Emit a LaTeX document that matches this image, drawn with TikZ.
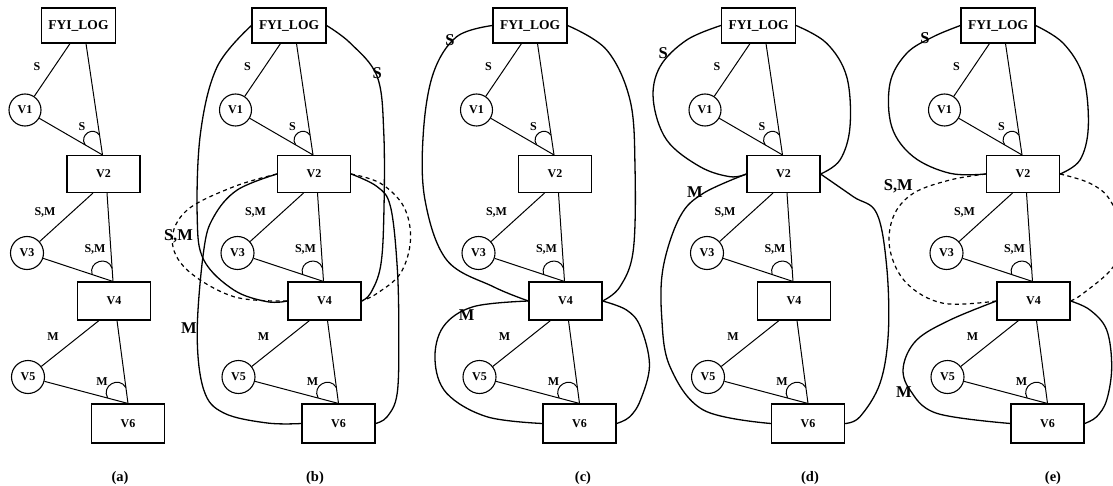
\documentclass[tikz,border=0pt]{standalone}
\usepackage{fontspec}
\setmainfont{Liberation Serif}
\usetikzlibrary{calc}
\newcommand\myNodeFont{\fontsize{12}{14}\selectfont\bfseries}
\newcommand\myFyiFont{\fontsize{13.5}{15}\selectfont\bfseries}
\newcommand\mySmallFont{\fontsize{12}{14}\selectfont\bfseries}
\newcommand\myBigFont{\fontsize{16.5}{18}\selectfont\bfseries}
\newcommand\myCapFont{\fontsize{14.5}{16}\selectfont\bfseries}
\tikzset{
  vbox/.style={draw, line width=1.1pt, minimum width=73pt, minimum height=37pt, inner sep=0pt, font=\myNodeFont},
  vcirc/.style={draw, circle, line width=1.1pt, minimum size=33pt, inner sep=0pt, font=\myNodeFont},
  thinedge/.style={line width=1pt},
  bigcurve/.style={line width=1.3pt},
  dcurve/.style={line width=1.2pt, dash pattern=on 4pt off 3.5pt},
  slab/.style={font=\mySmallFont, inner sep=0pt},
  blab/.style={font=\myBigFont, inner sep=0pt},
  caplab/.style={font=\myCapFont, inner sep=0pt},
}
\newcommand\andArc[5]{\draw[thinedge] ($(#1)!#4!(#2)$) to[bend left=90, looseness=1.7] ($(#1)!#5!(#3)$);}
\newcommand\panelBase{%
  \node[vbox, font=\myFyiFont, minimum width=74pt, minimum height=35pt] (fyi) at (78.5,25.5) {FYI\_LOG};
  \node[vcirc, minimum size=32pt] (v1) at (25,110) {V1};
  \node[vbox] (v2) at (103.5,174) {V2};
  \node[vcirc] (v3) at (27,253) {V3};
  \node[vbox, minimum height=38pt] (v4) at (114,301) {V4};
  \node[vcirc] (v5) at (28,377) {V5};
  \node[vbox, minimum height=39pt] (v6) at (128,423.5) {V6};
  \coordinate (f1) at ($(fyi.south)+(-8.5,0)$);
  \coordinate (f2) at ($(fyi.south)+(7.5,0)$);
  \coordinate (j2) at ($(v2.north)+(-1,0)$);
  \coordinate (b3) at ($(v2.south)+(-10.5,0)$);
  \coordinate (b4) at ($(v2.south)+(3.5,0)$);
  \coordinate (j4) at ($(v4.north)+(-1,0)$);
  \coordinate (c5) at ($(v4.south)+(-15,0)$);
  \coordinate (c6) at ($(v4.south)+(3,0)$);
  \coordinate (j6) at (v6.north);
  \draw[thinedge] (f1) -- (v1);
  \draw[thinedge] (f2) -- (j2);
  \draw[thinedge] (v1) -- (j2);
  \draw[thinedge] (b3) -- (v3);
  \draw[thinedge] (b4) -- (j4);
  \draw[thinedge] (v3) -- (j4);
  \draw[thinedge] (c5) -- (v5);
  \draw[thinedge] (c6) -- (j6);
  \draw[thinedge] (v5) -- (j6);
  \andArc{j2}{v1}{f2}{20pt}{20pt}
  \andArc{j4}{v3}{b4}{22pt}{13pt}
  \andArc{j6}{v5}{c6}{21pt}{16pt}
  \node[slab] (s1) at (37,67) {S};
  \node[slab] (s2) at (82,127) {S};
  \node[slab] (s3) at (45,212) {S,M};
  \node[slab] (s4) at (95,249) {S,M};
  \node[slab] (s5) at (53,337) {M};
  \node[slab] (s6) at (102,382) {M};
}
\begin{document}
\begin{tikzpicture}[x=1pt,y=-1pt]
\useasboundingbox (0,0) rectangle (1113,486);
\clip (0,0) rectangle (1113,486);
% (a)
\begin{scope}[name prefix=a-]
  \panelBase
\end{scope}
% (b)
\begin{scope}[shift={(210.5,0)}, name prefix=b-]
  \panelBase
  \draw[bigcurve] plot[smooth, tension=0.6] coordinates {(fyi.west) (6.7,66.7) (-10,133) (-13.3,216.7) (-6.7,260) (23.3,290) (56.7,301.7) (v4.west)};
  \draw[bigcurve] plot[smooth, tension=0.6] coordinates {(v2.west) (26.7,190) (3.3,216.7) (-6.7,250) (-13.3,333) (-6.7,390) (13.3,413) (56.7,423) (v6.west)};
  \draw[dcurve] plot[smooth, tension=0.6] coordinates {(v2.west) (23.3,186.7) (-23.3,210) (-38.3,240) (-23.3,270) (23.3,296.7) (v4.west)};
  \draw[bigcurve] plot[smooth, tension=0.6] coordinates {(fyi.east) (140,43.3) (166.7,76.7) (173.3,133.3) (173.3,216.7) (170,266.7) (160,293.3) (v4.east)};
  \draw[bigcurve] plot[smooth, tension=0.6] coordinates {(v2.east) (166.7,186.7) (180,206.7) (186.7,266.7) (188.3,333.3) (186.7,393.3) (176.7,416.7) (v6.east)};
  \draw[dcurve] plot[smooth, tension=0.6] coordinates {(v2.east) (170,183.3) (193.3,206.7) (200,240) (190,273.3) (166.7,293.3) (v4.east)};
  \node[blab] (bs) at (166.7,73.3) {S};
  \node[blab] (bsm) at (-32,236.7) {S,M};
  \node[blab] (bm) at (-21.7,328.3) {M};
\end{scope}
% (c)
\begin{scope}[shift={(451.5,0)}, name prefix=c-]
  \panelBase
  \draw[bigcurve] plot[smooth, tension=0.6] coordinates {(fyi.west) (5.2,36.7) (-18.2,73.3) (-28.2,133.3) (-26.5,200) (-4.8,260) (41.8,286.7) (v4.west)};
  \draw[bigcurve] plot[smooth, tension=0.6] coordinates {(fyi.east) (155.2,50) (178.5,100) (183.5,166.7) (181.8,250) (168.5,286.7) (v4.east)};
  \draw[bigcurve] plot[smooth, tension=0.6] coordinates {(v4.west) (21.8,306.7) (-8.2,326.7) (-16.5,360) (-4.8,393.3) (35.2,416.7) (v6.west)};
  \draw[bigcurve] plot[smooth, tension=0.6] coordinates {(v4.east) (175,310) (189,327) (198,365) (189,400) (178,417) (v6.east)};
  \node[blab] (cs) at (-1.5,40) {S};
  \node[blab] (cm) at (15.2,315) {M};
\end{scope}
% (d)
\begin{scope}[shift={(680,0)}, name prefix=d-]
  \panelBase
  \draw[bigcurve] plot[smooth, tension=0.6] coordinates {(fyi.west) (6.7,40) (-20,66.7) (-26.7,100) (-13.3,140) (20,166.7) (50,176.7) (v2.west)};
  \draw[bigcurve] plot[smooth, tension=0.6] coordinates {(fyi.east) (146.7,43.3) (166.7,76.7) (170,126.7) (160,160) (v2.east)};
  \draw[bigcurve] plot[smooth, tension=0.6] coordinates {(v2.west) (23.3,193.3) (0,216.7) (-16.7,266.7) (-18.3,316.7) (-10,366.7) (23.3,410) (v6.west)};
  \draw[bigcurve] plot[smooth, tension=0.6] coordinates {(v2.east) (173.3,196.7) (196.7,213.3) (206.7,266.7) (208.3,333.3) (200,383.3) (180,416.7) (v6.east)};
  \node[blab] (ds) at (-16.7,53.3) {S};
  \node[blab] (dm) at (15,191.7) {M};
\end{scope}
% (e)
\begin{scope}[shift={(919.5,0)}, name prefix=e-]
  \panelBase
  \draw[bigcurve] plot[smooth, tension=0.6] coordinates {(fyi.west) (13.8,36.7) (-12.8,53.3) (-29.5,83.3) (-27.8,126.7) (-6.2,156.7) (30.5,173.3) (v2.west)};
  \draw[bigcurve] plot[smooth, tension=0.6] coordinates {(fyi.east) (143.8,43.3) (163.8,76.7) (168.8,126.7) (160.5,160) (v2.east)};
  \draw[dcurve] plot[smooth, tension=0.6] coordinates {(v2.west) (30.5,180) (-6.2,193.3) (-26.2,216.7) (-29.5,250) (-12.8,283.3) (23.8,303.3) (v4.west)};
  \draw[dcurve] plot[smooth, tension=0.6] coordinates {(v2.east) (170.5,183.3) (190.5,200) (203,235) (193.8,266.7) (163.8,293.3) (v4.east)};
  \draw[bigcurve] plot[smooth, tension=0.6] coordinates {(v4.west) (30.5,320) (-2.8,340) (-16.2,366.7) (-9.5,390) (17.2,413.3) (v6.west)};
  \draw[bigcurve] plot[smooth, tension=0.6] coordinates {(v4.east) (170.5,310) (187.2,330) (192.2,366.7) (187.2,400) (177.2,416.7) (v6.east)};
  \node[blab] (es) at (5.5,38.3) {S};
  \node[blab] (esm) at (-21.2,186.7) {S,M};
  \node[blab] (em) at (-15.5,391.7) {M};
\end{scope}
\node[caplab] (pa) at (120,478) {(a)};
\node[caplab] (pb) at (315,478) {(b)};
\node[caplab] (pc) at (583,478) {(c)};
\node[caplab] (pd) at (810,478) {(d)};
\node[caplab] (pe) at (1053,478) {(e)};
\end{tikzpicture}
\end{document}
